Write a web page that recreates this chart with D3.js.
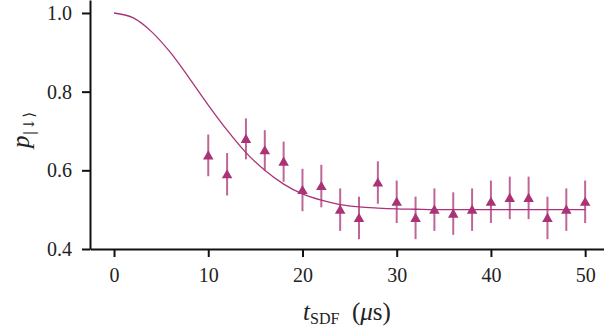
<!DOCTYPE html>
<html>
<head>
<meta charset="utf-8">
<script src="https://cdn.jsdelivr.net/npm/d3@7"></script>
<style>
  body { margin: 0; background: #fff; }
  text { font-family: "Liberation Serif", "DejaVu Serif", serif; fill: #222; }
</style>
</head>
<body>
<div id="root"></div>
<script>
// measured points
const tData = [10, 12, 14, 16, 18, 20, 22, 24, 26, 28, 30, 32, 34, 36, 38, 40, 42, 44, 46, 48, 50];
const pData = [0.638, 0.590, 0.680, 0.651, 0.622, 0.550, 0.560, 0.500, 0.479, 0.569, 0.520,
               0.479, 0.500, 0.490, 0.500, 0.520, 0.530, 0.530, 0.479, 0.500, 0.520];
const pErr = [0.053, 0.054, 0.052, 0.051, 0.051, 0.054, 0.054, 0.054, 0.054, 0.054, 0.054,
              0.054, 0.054, 0.054, 0.054, 0.054, 0.054, 0.054, 0.054, 0.054, 0.054];

// fit curve
const tFit = [0, 2, 4, 6, 8, 10, 12, 14, 16, 18, 20, 22, 24, 26, 28, 30, 32, 34, 40, 45, 50];
const pFit = [1.000, 0.988, 0.952, 0.899, 0.834, 0.766, 0.702, 0.645, 0.600, 0.565, 0.540,
              0.524, 0.513, 0.507, 0.504, 0.502, 0.501, 0.500, 0.500, 0.500, 0.500];

const xTicks = [0, 10, 20, 30, 40, 50];
const yTicks = [0.4, 0.6, 0.8, 1.0];

const color = "#aa3377";

const svg = d3.select("#root")
  .append("svg")
  .attr("width", 604)
  .attr("height", 331);

const x = d3.scaleLinear().domain([-2.55, 52]).range([90, 604]);
const y = d3.scaleLinear().domain([0.4, 1.033]).range([249, 0]);

svg.append("g")
    .attr("class", "axis axis--x")
    .attr("transform", "translate(0," + y(0.4) + ")")
    .call(d3.axisBottom(x).tickValues(xTicks).tickFormat(d3.format("d")).tickSize(8).tickPadding(11).tickSizeOuter(0));

svg.append("g")
    .attr("class", "axis axis--y")
    .attr("transform", "translate(" + x(-2.55) + ",0)")
    .call(d3.axisLeft(y).tickValues(yTicks).tickFormat(d3.format(".1f")).tickSize(8).tickPadding(10).tickSizeOuter(0));

svg.selectAll(".axis path, .axis line")
    .attr("stroke", "#111")
    .attr("stroke-width", 2);
svg.selectAll(".axis text")
    .attr("font-size", 20)
    .attr("font-family", "Liberation Serif")
    .attr("fill", "#222");

// fit line
const line = d3.line()
    .x((d, i) => x(tFit[i]))
    .y(d => y(d))
    .curve(d3.curveMonotoneX);

svg.append("path")
    .datum(pFit)
    .attr("fill", "none")
    .attr("stroke", color)
    .attr("stroke-width", 1.3)
    .attr("d", line);

// error bars
svg.selectAll(".err")
  .data(pData)
  .enter().append("line")
    .attr("class", "err")
    .attr("x1", (d, i) => x(tData[i]))
    .attr("x2", (d, i) => x(tData[i]))
    .attr("y1", (d, i) => y(d - pErr[i]))
    .attr("y2", (d, i) => y(d + pErr[i]))
    .attr("stroke", color)
    .attr("stroke-opacity", 0.75)
    .attr("stroke-width", 2);

// triangles
svg.selectAll(".pt")
  .data(pData)
  .enter().append("path")
    .attr("class", "pt")
    .attr("transform", (d, i) => "translate(" + x(tData[i]) + "," + (y(d) + 1) + ")")
    .attr("d", d3.symbol().type(d3.symbolTriangle).size(48))
    .attr("fill", color);

// x label
const xl = svg.append("text")
    .attr("x", 347)
    .attr("y", 320)
    .attr("text-anchor", "middle")
    .attr("font-size", 25);
xl.append("tspan").attr("font-style", "italic").text("t");
xl.append("tspan").attr("font-size", 16).attr("dy", 4).text("SDF");
xl.append("tspan").attr("dy", -4).text("\u2002(");
xl.append("tspan").attr("font-style", "italic").text("μ");
xl.append("tspan").text("s)");

// y label
const yl = svg.append("text")
    .attr("transform", "translate(29,130) rotate(-90)")
    .attr("text-anchor", "middle")
    .attr("font-size", 25);
yl.append("tspan").attr("font-style", "italic").text("p");
yl.append("tspan").attr("font-size", 15).attr("dy", 5).attr("font-family", "DejaVu Serif").text("|↓⟩");
</script>
</body>
</html>
